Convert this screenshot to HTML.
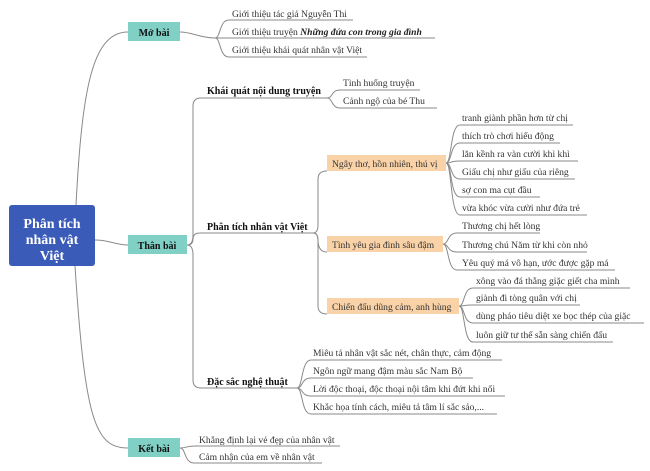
<!DOCTYPE html>
<html><head><meta charset="utf-8"><style>
html,body{margin:0;padding:0;background:#fff;}
svg{display:block;}
text{font-family:"Liberation Serif",serif;fill:#333;font-size:9.6px;}
.b{font-weight:bold;fill:#111;font-size:10px;}
.r{font-weight:bold;fill:#fff;font-size:14px;}
path{fill:none;stroke:#8a8a8a;stroke-width:1;}
</style></head><body>
<svg width="650" height="471" viewBox="0 0 650 471" xmlns="http://www.w3.org/2000/svg">
<path d="M76 205 C82 90 92 32 128 32"/>
<path d="M95 240 C110 240 115 245 128 245"/>
<path d="M75 266 C85 420 95 448 128 448"/>
<rect x="9" y="205" width="86" height="61" rx="3" fill="#3b5bb8"/>
<text class="r" x="52" y="228" text-anchor="middle">Phân tích</text>
<text class="r" x="52" y="244" text-anchor="middle">nhân vật</text>
<text class="r" x="52" y="260" text-anchor="middle">Việt</text>
<rect x="128" y="22" width="52" height="19" fill="#80d0c5"/>
<text class="b" x="154" y="36" text-anchor="middle">Mở bài</text>
<path d="M180 32 C192 32 200 38 215 38"/>
<path d="M215 38 C221 38 219 20 229 20 H353"/>
<path d="M215 38 H435"/>
<path d="M215 38 C221 38 219 57 229 57 H367"/>
<text x="232" y="17">Giới thiệu tác giả Nguyễn Thi</text>
<text x="232" y="35">Giới thiệu truyện <tspan font-style="italic" font-weight="bold" fill="#222">Những đứa con trong gia đình</tspan></text>
<text x="232" y="53">Giới thiệu khái quát nhân vật Việt</text>
<path d="M187 245 Q193 245 193 235 V106 Q193 98 201 98 H327"/>
<path d="M187 245 Q193 245 193 239 Q193 233 200 233 H313"/>
<path d="M187 245 Q193 245 193 255 V380 Q193 388 201 388 H297"/>
<rect x="128" y="235" width="59" height="19" fill="#80d0c5"/>
<text class="b" x="157" y="249" text-anchor="middle">Thân bài</text>
<text class="b" x="207" y="94">Khái quát nội dung truyện</text>
<text class="b" x="207" y="230">Phân tích nhân vật Việt</text>
<text class="b" x="207" y="385">Đặc sắc nghệ thuật</text>
<path d="M327 98 C333 98 331 90 340 90 H420"/>
<path d="M327 98 C333 98 331 108 340 108 H437"/>
<text x="343" y="86">Tình huống truyện</text>
<text x="343" y="104">Cảnh ngộ của bé Thu</text>
<path d="M313 233 Q318 233 318 225 V179 Q318 171 327 171"/>
<path d="M313 233 Q318 233 318 240 Q318 252 327 252"/>
<path d="M313 233 Q318 233 318 241 V306 Q318 314 327 314"/>
<rect x="327" y="155" width="119" height="16" fill="#f9d2a7"/>
<text x="332" y="167">Ngây thơ, hồn nhiên, thú vị</text>
<rect x="327" y="236" width="116" height="16" fill="#f9d2a7"/>
<text x="332" y="248">Tình yêu gia đình sâu đậm</text>
<rect x="327" y="298" width="132" height="16" fill="#f9d2a7"/>
<text x="332" y="310">Chiến đấu dũng cảm, anh hùng</text>
<path d="M446 163 C452 163 450 125 460 125 H573"/>
<path d="M446 163 C452 163 450 143 460 143 H560"/>
<path d="M446 163 C452 163 450 161 460 161 H578"/>
<path d="M446 163 C452 163 450 179 460 179 H575"/>
<path d="M446 163 C452 163 450 197 460 197 H540"/>
<path d="M446 163 C452 163 450 215 460 215 H587"/>
<text x="462" y="121">tranh giành phần hơn từ chị</text>
<text x="462" y="139">thích trò chơi hiếu động</text>
<text x="462" y="157">lăn kềnh ra vàn cười khì khì</text>
<text x="462" y="175">Giấu chị như giấu của riêng</text>
<text x="462" y="193">sợ con ma cụt đầu</text>
<text x="462" y="211">vừa khóc vừa cười như đứa trẻ</text>
<path d="M443 244 C449 244 447 233 457 233 H540"/>
<path d="M443 244 C449 244 447 252 457 252 H587"/>
<path d="M443 244 C449 244 447 270 457 270 H615"/>
<text x="462" y="229">Thương chị hết lòng</text>
<text x="462" y="248">Thương chú Năm từ khi còn nhỏ</text>
<text x="462" y="266">Yêu quý má vô hạn, ước được gặp má</text>
<path d="M459 306 C465 306 463 288 473 288 H630"/>
<path d="M459 306 C465 306 463 305 473 305 H580"/>
<path d="M459 306 C465 306 463 323 473 323 H644"/>
<path d="M459 306 C465 306 463 342 473 342 H613"/>
<text x="476" y="284">xông vào đá thằng giặc giết cha mình</text>
<text x="476" y="301">giành đi tòng quân với chị</text>
<text x="476" y="319">dùng pháo tiêu diệt xe bọc thép của giặc</text>
<text x="476" y="338">luôn giữ tư thế sẵn sàng chiến đấu</text>
<path d="M297 388 C303 388 301 360 311 360 H502"/>
<path d="M297 388 C303 388 301 378 311 378 H473"/>
<path d="M297 388 C303 388 301 396 311 396 H505"/>
<path d="M297 388 C303 388 301 414 311 414 H497"/>
<text x="313" y="356">Miêu tả nhân vật sắc nét, chân thực, cảm động</text>
<text x="313" y="374">Ngôn ngữ mang đậm màu sắc Nam Bộ</text>
<text x="313" y="392">Lời độc thoại, độc thoại nội tâm khi đứt khi nối</text>
<text x="313" y="410">Khắc họa tính cách, miêu tả tâm lí sắc sảo,...</text>
<rect x="128" y="438" width="52" height="19" fill="#80d0c5"/>
<text class="b" x="154" y="452" text-anchor="middle">Kết bài</text>
<path d="M180 448 C186 448 186 446 196 446 H340"/>
<path d="M180 448 C186 448 184 463 194 463 H322"/>
<text x="199" y="443">Khẳng định lại vẻ đẹp của nhân vật</text>
<text x="199" y="460">Cảm nhận của em về nhân vật</text>
</svg>
</body></html>
